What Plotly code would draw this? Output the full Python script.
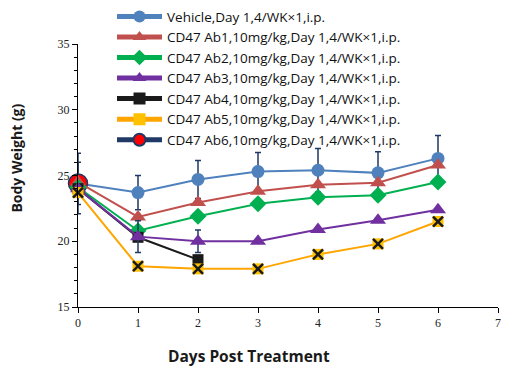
import plotly.graph_objects as go

days = [0, 1, 2, 3, 4, 5, 6]
days_ab4 = [0, 1, 2]
days_ab6 = [0]

names = [
    "Vehicle,Day 1,4/WK×1,i.p.",
    "CD47 Ab1,10mg/kg,Day 1,4/WK×1,i.p.",
    "CD47 Ab2,10mg/kg,Day 1,4/WK×1,i.p.",
    "CD47 Ab3,10mg/kg,Day 1,4/WK×1,i.p.",
    "CD47 Ab4,10mg/kg,Day 1,4/WK×1,i.p.",
    "CD47 Ab5,10mg/kg,Day 1,4/WK×1,i.p.",
    "CD47 Ab6,10mg/kg,Day 1,4/WK×1,i.p.",
]

vehicle = [24.4, 23.7, 24.7, 25.3, 25.4, 25.2, 26.3]
vehicle_err = [2.3, 1.3, 1.45, 1.45, 1.65, 1.6, 1.75]
ab1 = [24.5, 21.85, 22.95, 23.8, 24.3, 24.45, 25.8]
ab2 = [24.1, 20.8, 21.9, 22.85, 23.35, 23.5, 24.5]
ab3 = [24.0, 20.35, 20.0, 20.0, 20.9, 21.6, 22.4]
ab3_err = [0, 1.2, 0.85, 0, 0, 0, 0]
ab4 = [24.0, 20.3, 18.6]
ab5 = [23.7, 18.1, 17.9, 17.9, 19.0, 19.8, 21.5]
ab6 = [24.4]
ab6_err = [1.6]

NAVY = "#1F3864"
err_style = dict(type="data", color=NAVY, thickness=1.5, width=3)

fig = go.Figure()

fig.add_trace(go.Scatter(
    x=days, y=vehicle, name=names[0], mode="lines+markers", legendrank=1, legendgroup="g0",
    line=dict(color="#4F81BD", width=2),
    marker=dict(symbol="circle", size=13, color="#4F81BD"),
    error_y=dict(array=vehicle_err, **err_style), cliponaxis=False))

fig.add_trace(go.Scatter(
    x=days_ab6, y=ab6, name=names[6], mode="lines+markers", legendrank=7, legendgroup="g6",
    line=dict(color=NAVY, width=2),
    marker=dict(symbol="circle", size=19, color="#FF0000", line=dict(color=NAVY, width=1.5)),
    error_y=dict(array=ab6_err, **err_style), cliponaxis=False))

fig.add_trace(go.Scatter(
    x=days, y=ab1, name=names[1], mode="lines+markers", legendrank=2, legendgroup="g1",
    line=dict(color="#C0504D", width=2),
    marker=dict(symbol="triangle-up", size=14, color="#C0504D"), cliponaxis=False))

fig.add_trace(go.Scatter(
    x=days, y=ab2, name=names[2], mode="lines+markers", legendrank=3, legendgroup="g2",
    line=dict(color="#00B050", width=2),
    marker=dict(symbol="diamond", size=13, color="#00B050"), cliponaxis=False))

fig.add_trace(go.Scatter(
    x=days_ab4, y=ab4, name=names[4], mode="lines+markers", legendrank=5, legendgroup="g4",
    line=dict(color="#1A1A1A", width=2),
    marker=dict(symbol="square", size=11, color="#1A1A1A"), cliponaxis=False))

fig.add_trace(go.Scatter(
    x=days, y=ab3, name=names[3], mode="lines+markers", legendrank=4, legendgroup="g3",
    line=dict(color="#7030A0", width=2),
    marker=dict(symbol="triangle-up", size=14, color="#7030A0"),
    error_y=dict(array=ab3_err, **err_style), cliponaxis=False))

fig.add_trace(go.Scatter(
    x=days, y=ab5, name=names[5], mode="lines+markers", legendrank=6, legendgroup="g5",
    line=dict(color="#FFA500", width=2),
    marker=dict(symbol="square", size=11, color="#FFC000"), cliponaxis=False))
fig.add_trace(go.Scatter(
    x=days, y=ab5, name=names[5], mode="markers", showlegend=False, legendgroup="g5",
    marker=dict(symbol="x-thin", size=10, line=dict(color="#1A1A1A", width=2.5)),
    cliponaxis=False))

tickfont = dict(family="Liberation Serif", size=12, color="#222222")

# page body has an 8px margin, so the figure is sized/margined to compensate
fig.update_layout(
    width=511, height=362,
    margin=dict(l=70, r=21, t=36, b=63, autoexpand=False),
    plot_bgcolor="white", paper_bgcolor="white",
    showlegend=True,
    legend=dict(
        xref="container", yref="paper",
        x=104 / 511, y=1.163, xanchor="left", yanchor="top",
        font=dict(family="Open Sans", size=13.5, color="#111111"),
        bgcolor="rgba(0,0,0,0)", traceorder="grouped", tracegroupgap=0,
        itemwidth=45, itemsizing="constant"),
    xaxis=dict(
        range=[0, 7], tickmode="linear", tick0=0, dtick=1,
        showline=True, linecolor="black", linewidth=1,
        ticks="outside", ticklen=5, tickcolor="black",
        showgrid=False, zeroline=False, tickfont=tickfont),
    yaxis=dict(
        range=[15, 35], tickmode="linear", tick0=15, dtick=5,
        showline=True, linecolor="black", linewidth=1,
        ticks="outside", ticklen=5, tickcolor="black",
        minor=dict(dtick=1, ticks="outside", ticklen=3, tickcolor="black"),
        showgrid=False, zeroline=False, tickfont=tickfont),
    annotations=[
        dict(text="<b>Days Post Treatment</b>", xref="paper", yref="paper",
             x=0.408, y=-0.185, xanchor="center", yanchor="middle", showarrow=False,
             font=dict(family="Open Sans", size=15.5, color="#1A1A1A")),
        dict(text="<b>Body Weight (g)</b>", xref="paper", yref="paper",
             x=-0.146, y=0.567, xanchor="center", yanchor="middle", showarrow=False,
             textangle=-90, font=dict(family="Open Sans", size=14, color="#1A1A1A")),
    ],
)

fig.write_html("out.html")
